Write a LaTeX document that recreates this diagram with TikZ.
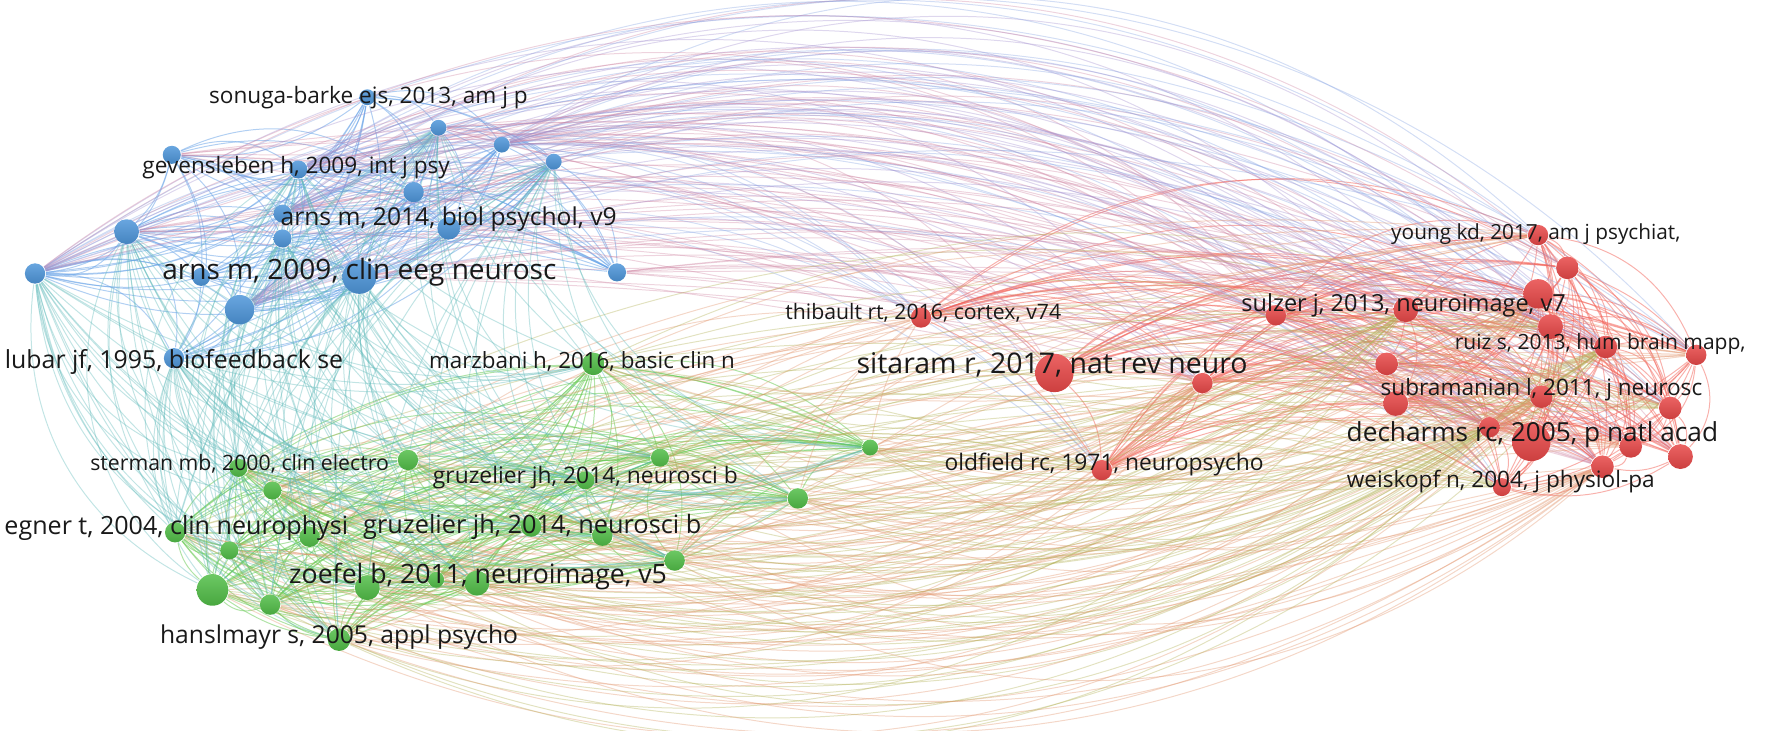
\documentclass[tikz,border=0pt]{standalone}
\usepackage{fontspec}
\setmainfont{Open Sans}
\pgfdeclarelayer{bg}
\pgfsetlayers{bg,main}
\definecolor{bcol}{RGB}{78,150,218}
\definecolor{gcol}{RGB}{82,190,72}
\definecolor{rcol}{RGB}{232,72,72}
\definecolor{bedgec}{RGB}{100,160,230}
\definecolor{gedgec}{RGB}{100,200,80}
\definecolor{redgec}{RGB}{242,100,90}
\definecolor{bredgec}{RGB}{160,140,205}
\definecolor{bredgeb}{RGB}{130,160,225}
\definecolor{bredger}{RGB}{205,130,160}
\definecolor{gredgec}{RGB}{180,178,90}
\definecolor{gredger}{RGB}{225,150,110}
\definecolor{bgedgec}{RGB}{95,185,185}
\definecolor{txt}{RGB}{25,25,25}
\tikzset{
  dot/.style={circle,inner sep=0pt,minimum size=#1*0.25pt},
  bn/.style={dot=#1,top color=bcol!85!white,bottom color=bcol!88!black},
  gn/.style={dot=#1,top color=gcol!85!white,bottom color=gcol!88!black},
  rn/.style={dot=#1,top color=rcol!85!white,bottom color=rcol!88!black},
  edgebase/.style={line width=0.22pt,opacity=0.45},
  bedge/.style={edgebase,draw=bedgec,opacity=0.5},
  gedge/.style={edgebase,draw=gedgec,opacity=0.5},
  redge/.style={edgebase,draw=redgec,opacity=0.5},
  bredge/.style={edgebase,draw=#1,opacity=0.35},
  gredge/.style={edgebase,draw=#1,opacity=0.38},
  bgedge/.style={edgebase,draw=bgedgec,opacity=0.38},
  lbl/.style={text=txt,inner sep=0pt,font=\fontsize{#1}{#1}\selectfont},
}
\begin{document}
\begin{tikzpicture}[x=0.25pt,y=-0.25pt]
\useasboundingbox (0,0) rectangle (1568,646);
% blue cluster
\node[bn=14] (b1) at (325,86) {};
\node[bn=14] (b2) at (388,113) {};
\node[bn=14] (b3) at (444,128) {};
\node[bn=14] (b4) at (490,143) {};
\node[bn=16] (b5) at (152,137) {};
\node[bn=16] (b6) at (264,150) {};
\node[bn=18] (b7) at (366,170) {};
\node[bn=22] (b8) at (112,205) {};
\node[bn=16] (b9) at (250,189) {};
\node[bn=16] (b10) at (250,211) {};
\node[bn=20] (b11) at (397,202) {};
\node[bn=18] (b12) at (31,242) {};
\node[bn=16] (b13) at (178,245) {};
\node[bn=30] (b14) at (318,245) {};
\node[bn=26] (b15) at (212,274) {};
\node[bn=18] (b16) at (154,317) {};
\node[bn=16] (b17) at (546,241) {};
% green cluster
\node[gn=14] (g1) at (770,396) {};
\node[gn=16] (g2) at (211,414) {};
\node[gn=18] (g3) at (361,407) {};
\node[gn=16] (g4) at (584,405) {};
\node[gn=16] (g5) at (241,434) {};
\node[gn=16] (g6) at (518,425) {};
\node[gn=18] (g7) at (706,441) {};
\node[gn=18] (g8) at (155,471) {};
\node[gn=18] (g9) at (274,475) {};
\node[gn=18] (g10) at (470,466) {};
\node[gn=18] (g11) at (533,474) {};
\node[gn=16] (g12) at (203,487) {};
\node[gn=18] (g13) at (597,496) {};
\node[gn=28] (g14) at (188,522) {};
\node[gn=22] (g15) at (325,520) {};
\node[gn=22] (g16) at (422,516) {};
\node[gn=14] (g17) at (386,513) {};
\node[gn=18] (g18) at (239,535) {};
\node[gn=20] (g19) at (300,566) {};
\node[gn=20] (g20) at (525,322) {};
% red cluster
\node[rn=18] (r1) at (815,281) {};
\node[rn=34] (r2) at (933,330) {};
\node[rn=18] (r3) at (1064,339) {};
\node[rn=18] (r4) at (975,416) {};
\node[rn=18] (r5) at (1129,279) {};
\node[rn=22] (r6) at (1244,274) {};
\node[rn=18] (r7) at (1361,208) {};
\node[rn=20] (r8) at (1387,237) {};
\node[rn=26] (r9) at (1361,260) {};
\node[rn=22] (r10) at (1372,289) {};
\node[rn=20] (r11) at (1227,322) {};
\node[rn=20] (r12) at (1421,307) {};
\node[rn=18] (r13) at (1501,314) {};
\node[rn=22] (r14) at (1235,357) {};
\node[rn=20] (r15) at (1364,351) {};
\node[rn=20] (r16) at (1478,361) {};
\node[rn=34] (r17) at (1355,391) {};
\node[rn=18] (r18) at (1318,378) {};
\node[rn=20] (r19) at (1443,395) {};
\node[rn=22] (r20) at (1487,404) {};
\node[rn=20] (r21) at (1418,413) {};
\node[rn=16] (r22) at (1329,431) {};
% edges
\begin{pgfonlayer}{bg}
\foreach \i in {1,...,17}{\foreach \j in {1,...,17}{\ifnum\i<\j
  \pgfmathtruncatemacro\a{12+mod(\i*7+\j*5,24)}
  \draw[bedge] (b\i) to[bend left=\a] (b\j);\fi}}
\foreach \i in {1,...,20}{\foreach \j in {1,...,20}{\ifnum\i<\j
  \pgfmathtruncatemacro\a{12+mod(\i*7+\j*5,24)}
  \draw[gedge] (g\i) to[bend right=\a] (g\j);\fi}}
\foreach \i in {1,...,22}{\foreach \j in {1,...,22}{\ifnum\i<\j
  \pgfmathtruncatemacro\a{12+mod(\i*7+\j*5,24)}
  \draw[redge] (r\i) to[bend left=\a] (r\j);\fi}}
% blue - red
\foreach \i in {1,...,17}{\foreach \j in {1,...,22}{
  \pgfmathtruncatemacro\k{mod(\i*5+\j*3,3)}
  \pgfmathtruncatemacro\c{mod(\i+\j,3)}
  \ifcase\c \def\col{bredgec}\or \def\col{bredgeb}\else \def\col{bredger}\fi
  \ifnum\k=0
    \pgfmathtruncatemacro\a{18+mod(\i*7+\j*11,26)}
    \draw[bredge=\col] (b\i) to[bend left=\a] (r\j);
  \else\ifnum\k=1
    \pgfmathtruncatemacro\m{mod(\i*\j,3)}
    \ifnum\m=0
      \pgfmathtruncatemacro\a{2+mod(\i*5+\j*3,16)}
      \draw[bredge=\col] (b\i) to[bend left=\a] (r\j);
    \fi
  \fi\fi}}
% green - red
\foreach \i in {1,...,20}{\foreach \j in {1,...,22}{
  \pgfmathtruncatemacro\k{mod(\i*3+\j*7,3)}
  \pgfmathtruncatemacro\c{mod(\i*2+\j,2)}
  \ifcase\c \def\col{gredgec}\else \def\col{gredger}\fi
  \ifnum\k=0
    \pgfmathtruncatemacro\a{10+mod(\i*13+\j*7,29)}
    \draw[gredge=\col] (g\i) to[bend right=\a] (r\j);
  \else\ifnum\k=1
    \pgfmathtruncatemacro\m{mod(\i+\j,2)}
    \ifnum\m=0
      \pgfmathtruncatemacro\a{3+mod(\i*5+\j*3,22)}
      \draw[gredge=\col] (g\i) to[bend left=\a] (r\j);
    \fi
  \fi\fi}}
% blue - green, around the left
\foreach \i in {1,...,17}{\foreach \j in {1,...,20}{
  \pgfmathtruncatemacro\k{mod(\i+\j*2,2)}
  \ifnum\k=0
  \pgfmathtruncatemacro\a{12+mod(\i*7+\j*3,34)}
  \draw[bgedge] (b\i) to[bend right=\a] (g\j);\fi}}
\end{pgfonlayer}
% labels
\node[lbl=5.0] (l1) at (326,86) {sonuga-barke ejs, 2013, am j p};
\node[lbl=5.0] (l2) at (262,148) {gevensleben h, 2009, int j psy};
\node[lbl=5.45] (l3) at (397,194) {arns m, 2014, biol psychol, v9};
\node[lbl=6.2] (l4) at (318,241) {arns m, 2009, clin eeg neurosc};
\node[lbl=5.5] (l5) at (154,320) {lubar jf, 1995, biofeedback se};
\node[lbl=4.95] (l6) at (515,320) {marzbani h, 2016, basic clin n};
\node[lbl=4.7] (l7) at (212,410) {sterman mb, 2000, clin electro};
\node[lbl=5.05] (l8) at (518,423) {gruzelier jh, 2014, neurosci b};
\node[lbl=5.55] (l9) at (156,467) {egner t, 2004, clin neurophysi};
\node[lbl=5.6] (l10) at (471,466) {gruzelier jh, 2014, neurosci b};
\node[lbl=5.9] (l11) at (423,510) {zoefel b, 2011, neuroimage, v5};
\node[lbl=5.45] (l12) at (300,564) {hanslmayr s, 2005, appl psycho};
\node[lbl=4.7] (l13) at (817,277) {thibault rt, 2016, cortex, v74};
\node[lbl=6.3] (l14) at (931,323) {sitaram r, 2017, nat rev neuro};
\node[lbl=5.05] (l15) at (977,411) {oldfield rc, 1971, neuropsycho};
\node[lbl=4.6] (l16) at (1359,207) {young kd, 2017, am j psychiat,};
\node[lbl=5.2] (l17) at (1242,270) {sulzer j, 2013, neuroimage, v7};
\node[lbl=4.65] (l18) at (1416,304) {ruiz s, 2013, hum brain mapp,};
\node[lbl=5.0] (l19) at (1364,345) {subramanian l, 2011, j neurosc};
\node[lbl=5.8] (l20) at (1356,385) {decharms rc, 2005, p natl acad};
\node[lbl=5.0] (l21) at (1328,426) {weiskopf n, 2004, j physiol-pa};
\end{tikzpicture}
\end{document}
